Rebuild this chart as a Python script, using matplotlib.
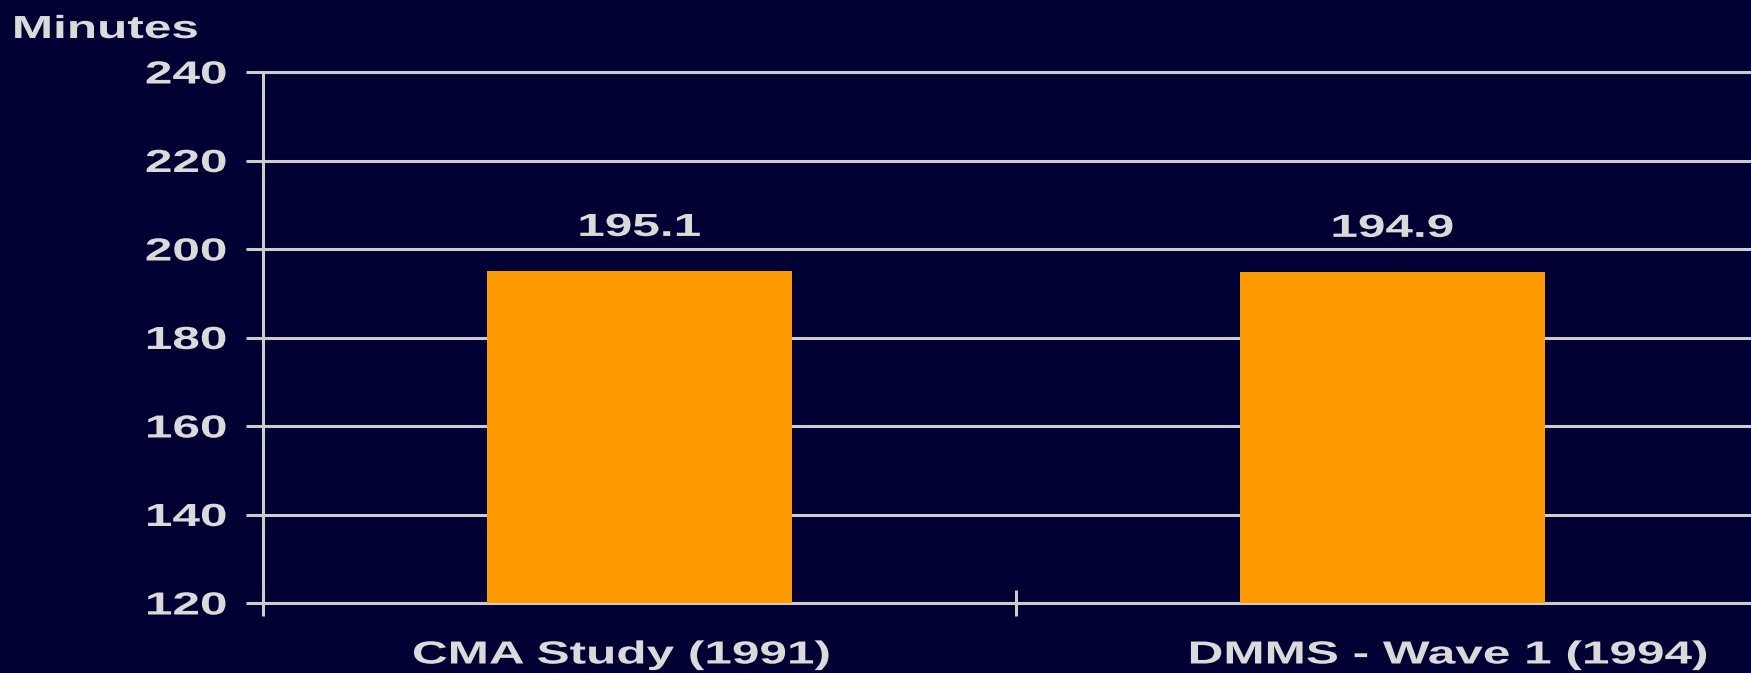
import matplotlib
matplotlib.use("Agg")
import matplotlib.pyplot as plt
from matplotlib.patheffects import AbstractPathEffect
from matplotlib.transforms import Affine2D, ScaledTranslation

# data
studies = ["CMA Study (1991)", "DMMS - Wave 1 (1994)"]
minutes = [195.1, 194.9]
yticks = [120, 140, 160, 180, 200, 220, 240]

navy = "#000033"
bar_col = "#FD9A00"
line_col = "#CCCCCC"
txt_col = "#DADADA"
WIDE = 1.55


class Widen(AbstractPathEffect):
    """draw text glyphs stretched sideways about the left/center/right of the string"""
    def __init__(self, sx=WIDE, anchor="center"):
        super().__init__()
        self.sx = sx
        self.anchor = anchor

    def draw_path(self, renderer, gc, tpath, affine, rgbFace=None):
        ext = tpath.get_extents()
        x0 = {"left": ext.x0, "center": (ext.x0 + ext.x1) / 2., "right": ext.x1}[self.anchor]
        st = Affine2D().translate(-x0, 0).scale(self.sx, 1).translate(x0, 0)
        renderer.draw_path(gc, tpath, st + affine, rgbFace)


plt.rcParams["font.family"] = ["Liberation Sans", "DejaVu Sans"]
plt.rcParams["font.weight"] = "bold"

fig = plt.figure(figsize=(17.51, 6.73), dpi=100, facecolor=navy)
ax = fig.add_axes([263 / 1751., 70 / 673., 1506 / 1751., 531 / 673.], facecolor=navy)

x = list(range(len(studies)))
ax.bar(x, minutes, width=0.405, color=bar_col, zorder=3)
ax.set_xlim(-0.5, 1.5)
ax.set_ylim(120, 240)

ax.set_yticks(yticks)
ax.yaxis.grid(True, color=line_col, lw=2.2, zorder=0)
ax.set_axisbelow(True)
ax.tick_params(axis="y", direction="out", length=12, width=2.2, color=line_col,
               labelsize=23, labelcolor=txt_col, pad=14)

ax.set_xticks(x)
ax.set_xticklabels(studies)
ax.set_xticks([-0.5, 0.5, 1.5], minor=True)
ax.tick_params(axis="x", which="major", length=0, labelsize=23, labelcolor=txt_col, pad=27)
ax.tick_params(axis="x", which="minor", direction="inout", length=19, width=2.2, color=line_col)

for s in ax.spines.values():
    s.set_color(line_col)
    s.set_linewidth(2.2)

for lbl in ax.get_yticklabels():
    lbl.set_path_effects([Widen(anchor="right")])
# category names sit a little off the bar centres
for lbl, dx in zip(ax.get_xticklabels(), [-18, 56]):
    lbl.set_path_effects([Widen(anchor="center")])
    lbl.set_transform(lbl.get_transform() + ScaledTranslation(dx / 100., 0, fig.dpi_scale_trans))

# values above bars
for xi, v in zip(x, minutes):
    t = ax.annotate(f"{v:.1f}", (xi, v), xytext=(0, 25), textcoords="offset points",
                    ha="center", va="baseline", fontsize=23, color=txt_col)
    t.set_path_effects([Widen(anchor="center")])

t = fig.text(13 / 1751., 1 - 38 / 673., "Minutes", ha="left", va="baseline",
             fontsize=23, color=txt_col)
t.set_path_effects([Widen(anchor="left")])

fig.savefig("out.png", dpi=100, facecolor=navy)
